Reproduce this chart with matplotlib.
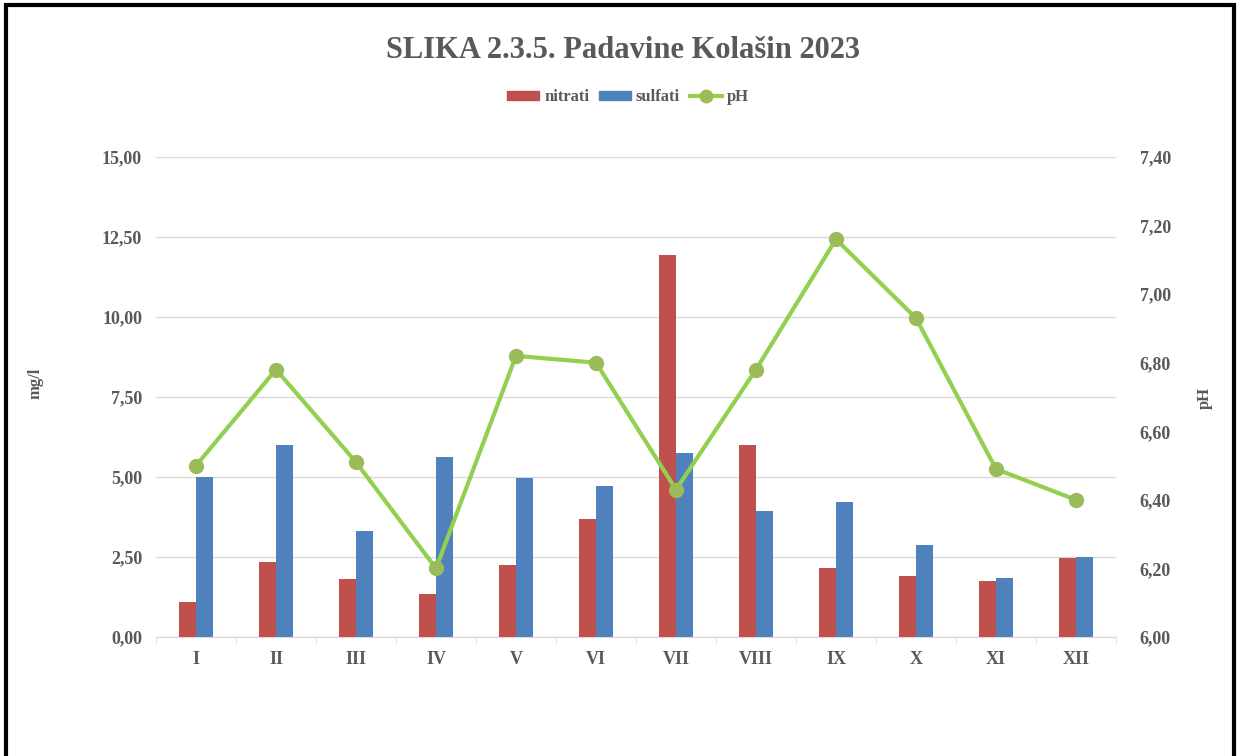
import matplotlib
matplotlib.use("Agg")
import matplotlib.pyplot as plt
import numpy as np
from matplotlib.patches import Rectangle
from matplotlib.ticker import FuncFormatter
from matplotlib.lines import Line2D
from matplotlib.patches import Patch

months = ["I", "II", "III", "IV", "V", "VI", "VII", "VIII", "IX", "X", "XI", "XII"]
nitrati = [1.09, 2.34, 1.81, 1.34, 2.25, 3.69, 11.94, 6.00, 2.16, 1.91, 1.75, 2.47]
sulfati = [5.00, 6.00, 3.31, 5.63, 4.97, 4.72, 5.75, 3.94, 4.22, 2.88, 1.84, 2.50]
ph = [6.50, 6.78, 6.51, 6.20, 6.82, 6.80, 6.43, 6.78, 7.16, 6.93, 6.49, 6.40]

plt.rcParams['font.family'] = ['Liberation Serif', 'DejaVu Serif']
plt.rcParams['font.weight'] = 'bold'
txt = '#595959'

fig = plt.figure(figsize=(12.37, 7.56), dpi=100)
ax = fig.add_axes([156/1237, 119/756, 960/1237, 480/756])
ax2 = ax.twinx()

x = np.arange(len(months))
w = 0.21
ax.bar(x - w/2, nitrati, w, color='#C0504D', zorder=3)
ax.bar(x + w/2, sulfati, w, color='#4F81BD', zorder=3)
ax2.plot(x, ph, color='#92D050', lw=3, marker='o', ms=10,
         markerfacecolor='#9BBB59', markeredgecolor='#9BBB59', zorder=4)

ax.set_xlim(-0.5, 11.5)
ax.set_ylim(0, 15)
ax.set_yticks(np.arange(0, 15.01, 2.5))
ax2.set_ylim(6.0, 7.4)
ax2.set_yticks(np.arange(6.0, 7.401, 0.2))
fmt = FuncFormatter(lambda v, p: f"{v:.2f}".replace('.', ','))
ax.yaxis.set_major_formatter(fmt)
ax2.yaxis.set_major_formatter(fmt)
ax.grid(axis='y', color='#D9D9D9', lw=1, zorder=0)
ax.set_axisbelow(True)

for a in (ax, ax2):
    for s in a.spines.values():
        s.set_visible(False)
ax.spines['bottom'].set_visible(True)
ax.spines['bottom'].set_color('#D9D9D9')

ax.set_xticks(x)
ax.set_xticklabels(months)
ax.set_xticks(np.arange(-0.5, 12, 1), minor=True)
ax.tick_params(axis='x', which='major', length=0, pad=10, labelsize=13, labelcolor=txt)
ax.tick_params(axis='x', which='minor', length=5, color='#D9D9D9', direction='out')
ax.tick_params(axis='y', length=0, pad=10, labelsize=13, labelcolor=txt)
ax2.tick_params(axis='y', length=0, pad=17, labelsize=13, labelcolor=txt)

fig.text(35/1237, 1 - 383/756, 'mg/l', rotation=90, ha='center', va='center',
         fontsize=12, fontweight='bold', color=txt)
fig.text(1205/1237, 1 - 398/756, 'pH', rotation=90, ha='center', va='center',
         fontsize=12, fontweight='bold', color=txt)

fig.text(623/1237, 1 - 51/756, 'SLIKA 2.3.5. Padavine Kolašin 2023', ha='center', va='center',
         fontsize=22, fontweight='bold', color=txt)

handles = [Patch(color='#C0504D'), Patch(color='#4F81BD'),
           Line2D([0], [0], color='#92D050', lw=3, marker='o', ms=9,
                  markerfacecolor='#9BBB59', markeredgecolor='#9BBB59')]
leg = fig.legend(handles, ['nitrati', 'sulfati', 'pH'], loc='center',
                 bbox_to_anchor=(628/1237, 1 - 97/756), ncol=3, frameon=False,
                 fontsize=12, handlelength=1.9, handleheight=0.45, columnspacing=0.6,
                 handletextpad=0.3)
for t in leg.get_texts():
    t.set_color(txt)

fig.patches.append(Rectangle((6/1237, -0.01), 1228/1237, 1 - 5/756 + 0.01,
                             transform=fig.transFigure, fill=False, edgecolor='black',
                             lw=3, zorder=10))

fig.savefig('out.png', dpi=100)
